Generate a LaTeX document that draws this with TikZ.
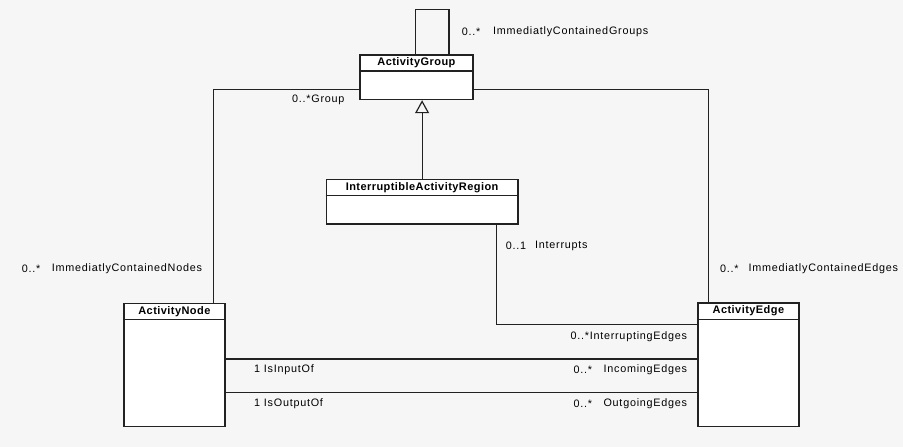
\documentclass[tikz,border=0pt]{standalone}
\usepackage{fontspec}
\setmainfont{Liberation Sans}
\usetikzlibrary{arrows.meta,calc}
\definecolor{bg}{HTML}{F6F6F6}
\definecolor{ln}{HTML}{222222}
\tikzset{
  clsbox/.style={draw=ln, fill=white, line width=1.2pt, anchor=north west, inner sep=0pt},
  clstitle/.style={anchor=north, inner sep=0pt, minimum height=16.7pt, font=\bfseries\fontsize{11}{12}\selectfont\addfontfeature{LetterSpace=4}},
  conn/.style={draw=ln, line width=1.2pt},
  lbl/.style={anchor=west, inner sep=0pt, font=\fontsize{10.8}{12}\selectfont\addfontfeature{LetterSpace=7}, text=black},
}
\begin{document}
\begin{tikzpicture}[x=1pt,y=-1pt]
\fill[bg] (0,0) rectangle (903,447);
\useasboundingbox (0,0) rectangle (903,447);

% class boxes
\node[clsbox, minimum width=113pt, minimum height=44.7pt] (ag) at (359.3,54.3) {};
\node[clstitle] (agt) at (ag.north) {ActivityGroup};
\draw[conn] ([yshift=-16.7pt]ag.north west) -- ([yshift=-16.7pt]ag.north east);

\node[clsbox, minimum width=191.6pt, minimum height=44.3pt] (iar) at (325.7,179) {};
\node[clstitle] (iart) at (iar.north) {InterruptibleActivityRegion};
\draw[conn] ([yshift=-16.5pt]iar.north west) -- ([yshift=-16.5pt]iar.north east);

\node[clsbox, minimum width=101pt, minimum height=123.3pt] (an) at (123.3,302.7) {};
\node[clstitle] (ant) at (an.north) {ActivityNode};
\draw[conn] ([yshift=-16.6pt]an.north west) -- ([yshift=-16.6pt]an.north east);

\node[clsbox, minimum width=101pt, minimum height=123.7pt] (ae) at (697.3,302.3) {};
\node[clstitle] (aet) at (ae.north) {ActivityEdge};
\draw[conn] ([yshift=-17pt]ae.north west) -- ([yshift=-17pt]ae.north east);

% connectors
\draw[conn] ([xshift=56.4pt]ag.north west) |- ++(33.3,-45) -- ([xshift=89.7pt]ag.north west);
\draw[conn] ([yshift=11pt]ag.south west) -| ([xshift=90pt]an.north west);
\draw[conn] ([yshift=11pt]ag.south east) -| ([xshift=11pt]ae.north west);
\draw[conn, -{Triangle[open, length=13pt, width=14pt, line width=1.2pt]}] (iar.north) -- (iar.north |- ag.south);
\draw[conn] ([xshift=-22.3pt]iar.south east) |- ([yshift=-22.4pt]ae.north west);
\draw[conn] ([yshift=-56.3pt]an.north east) -- ([yshift=-56.3pt]an.north east -| ae.west);
\draw[conn] ([yshift=-89.6pt]an.north east) -- ([yshift=-89.6pt]an.north east -| ae.west);

% labels
\node[lbl] (l1a) at (461.7,32) {0..*};
\node[lbl] (l1b) at (493,32) {ImmediatlyContainedGroups};
\node[lbl] (l2) at (292,100) {0..*Group};
\node[lbl] (l3a) at (21.7,268.3) {0..*};
\node[lbl] (l3b) at (51.7,268.3) {ImmediatlyContainedNodes};
\node[lbl] (l4a) at (505.7,246) {0..1};
\node[lbl] (l4b) at (535,246) {Interrupts};
\node[lbl] (l5a) at (720,268.3) {0..*};
\node[lbl] (l5b) at (748.3,268.3) {ImmediatlyContainedEdges};
\node[lbl] (l6) at (254,370) {1 IsInputOf};
\node[lbl] (l7) at (254,403.3) {1 IsOutputOf};
\node[lbl, anchor=east] (l8) at (687.3,336.7) {0..*InterruptingEdges};
\node[lbl] (l9a) at (573.3,369.3) {0..*};
\node[lbl, anchor=east] (l9b) at (687.3,369.3) {IncomingEdges};
\node[lbl] (l10a) at (573.3,403.3) {0..*};
\node[lbl, anchor=east] (l10b) at (687.3,403.3) {OutgoingEdges};
\end{tikzpicture}
\end{document}
